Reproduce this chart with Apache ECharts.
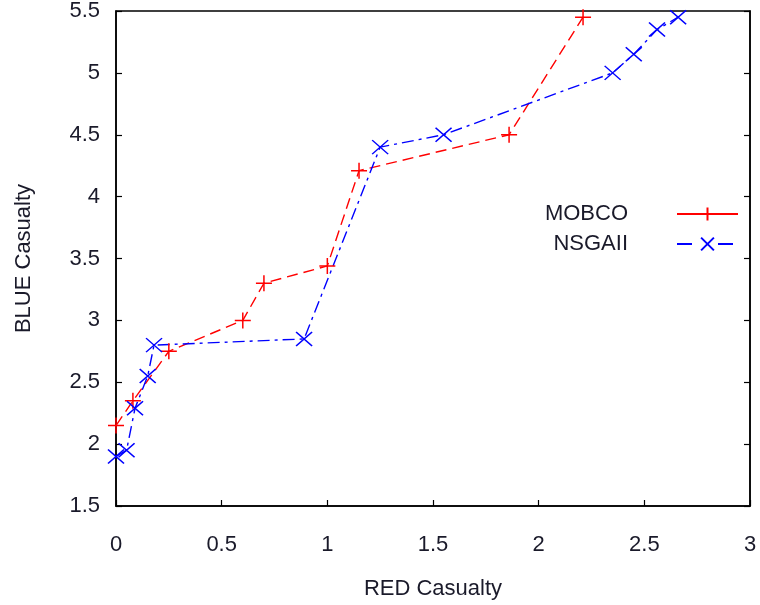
<!DOCTYPE html>
<html>
<head>
<meta charset="utf-8">
<script src="https://cdn.jsdelivr.net/npm/echarts@6/dist/echarts.min.js"></script>
<style>html,body{margin:0;padding:0;background:#fff}#c{width:760px;height:605px}</style>
</head>
<body>
<div id="c"></div>
<script>
var mobcoX = [0, 0.08, 0.25, 0.60, 0.70, 1.00, 1.15, 1.86, 2.21];
var mobcoY = [2.15, 2.35, 2.75, 3.00, 3.30, 3.44, 4.21, 4.50, 5.45];
var nsgaX = [0, 0.05, 0.09, 0.15, 0.18, 0.89, 1.25, 1.55, 2.35, 2.45, 2.56, 2.66];
var nsgaY = [1.90, 1.95, 2.29, 2.55, 2.80, 2.85, 4.40, 4.50, 5.00, 5.15, 5.35, 5.45];
var seriesNames = ['MOBCO', 'NSGAII'];
var xTitle = 'RED Casualty';
var yTitle = 'BLUE Casualty';

function pairs(xs, ys) { return xs.map(function (x, i) { return [x, ys[i]]; }); }

var font = 'Arial, "Liberation Sans", sans-serif';
var txt = '#1a1a2a';
var chart = echarts.init(document.getElementById('c'), null, {renderer: 'canvas'});
chart.setOption({
  animation: false,
  backgroundColor: '#fff',
  grid: {left: 116, right: 10, top: 8, bottom: 96, show: true, borderColor: '#000', borderWidth: 1.5},
  xAxis: [{
    type: 'value', min: 0, max: 3, interval: 0.5,
    name: xTitle, nameLocation: 'middle', nameGap: 72,
    nameTextStyle: {fontFamily: font, fontSize: 22, color: txt},
    axisLine: {show: true, lineStyle: {color: '#000', width: 1.5}},
    axisTick: {show: true, inside: true, length: 6, lineStyle: {color: '#000', width: 1.2}},
    axisLabel: {fontFamily: font, fontSize: 22, color: txt, margin: 28},
    splitLine: {show: false}
  }],
  yAxis: [{
    type: 'value', min: 1.5, max: 5.5, interval: 0.5,
    name: yTitle, nameLocation: 'middle', nameGap: 81, nameRotate: 90,
    nameTextStyle: {fontFamily: font, fontSize: 22, color: txt},
    axisLine: {show: true, lineStyle: {color: '#000', width: 1.5}},
    axisTick: {show: true, inside: true, length: 6, lineStyle: {color: '#000', width: 1.2}},
    axisLabel: {fontFamily: font, fontSize: 22, color: txt, margin: 16},
    splitLine: {show: false}
  }, {
    type: 'value', min: 1.5, max: 5.5, interval: 0.5, position: 'right',
    axisLine: {show: true, lineStyle: {color: '#000', width: 1.5}},
    axisTick: {show: true, inside: true, length: 6, lineStyle: {color: '#000', width: 1.2}},
    axisLabel: {show: false},
    splitLine: {show: false}
  }],
  legend: {
    orient: 'vertical', align: 'right', right: 16, top: 198,
    itemWidth: 61, itemHeight: 16, itemGap: 8,
    textStyle: {fontFamily: font, fontSize: 22, color: txt, padding: [0, 44, 0, 0]},
    data: [
      {name: seriesNames[0], lineStyle: {type: 'solid'}},
      {name: seriesNames[1], lineStyle: {type: [15, 26]}}
    ]
  },
  series: [{
    name: seriesNames[0], type: 'line', data: pairs(mobcoX, mobcoY),
    symbol: 'path://M0,8L16,8M8,0L8,16', symbolSize: 16,
    itemStyle: {color: 'rgba(0,0,0,0)', borderColor: '#ff0000', borderWidth: 1.5},
    lineStyle: {color: '#ff0000', width: 1.4, type: [11, 6]},
    emphasis: {disabled: true}
  }, {
    name: seriesNames[1], type: 'line', data: pairs(nsgaX, nsgaY),
    symbol: 'path://M0,0L16,14M0,14L16,0', symbolSize: [16, 14],
    itemStyle: {color: 'rgba(0,0,0,0)', borderColor: '#0000ff', borderWidth: 1.5},
    lineStyle: {color: '#0000ff', width: 1.4, type: [12, 5, 3, 5]},
    emphasis: {disabled: true}
  }]
});
</script>
</body>
</html>
